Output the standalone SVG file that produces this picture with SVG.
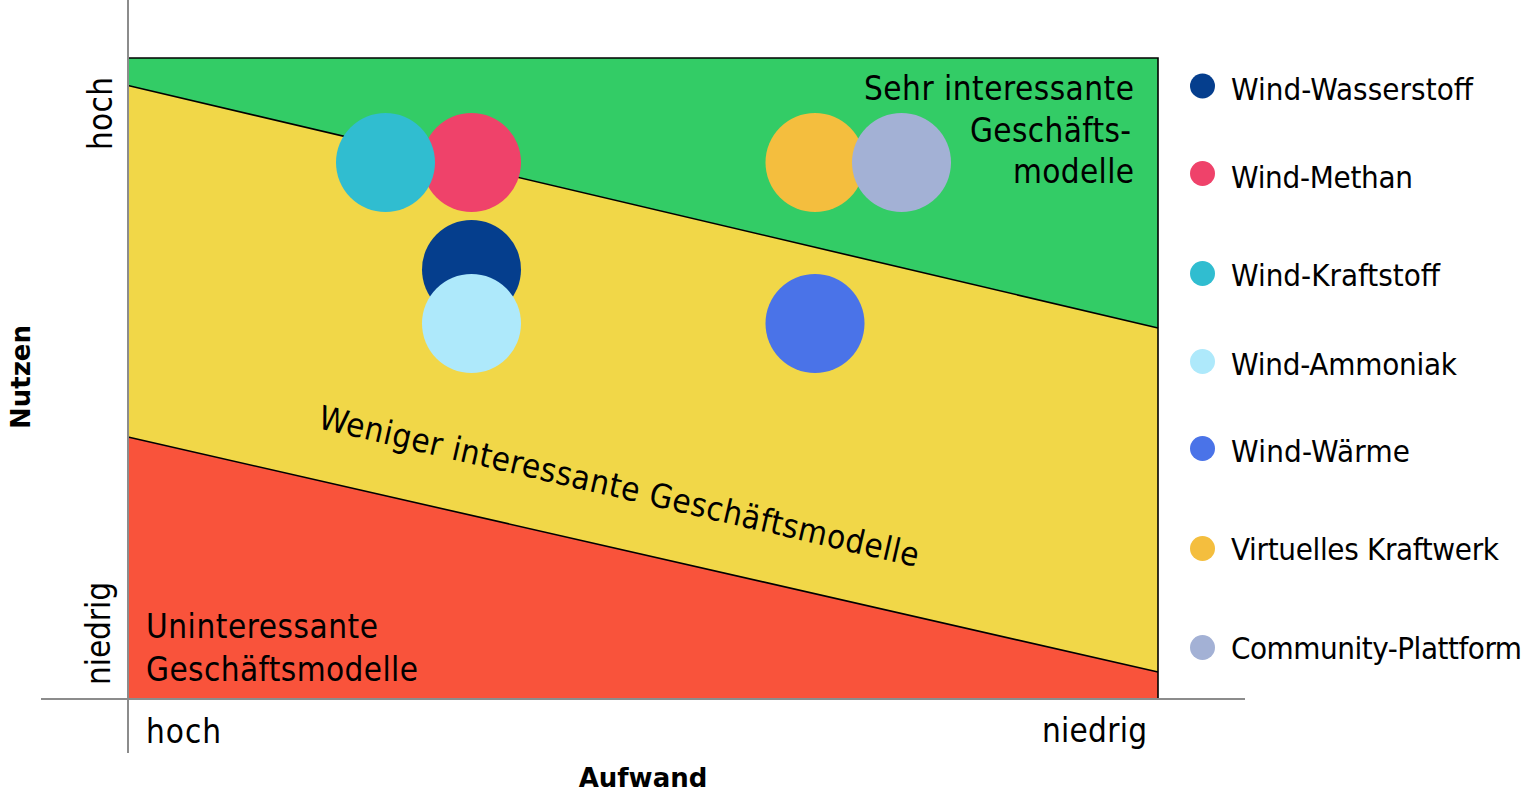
<svg xmlns="http://www.w3.org/2000/svg" width="1524" height="803" viewBox="0 0 1524 803">
<style>
.t{font-family:"DejaVu Sans Condensed","DejaVu Sans",sans-serif;font-stretch:condensed;font-size:33px;fill:#000}
.lg{font-family:"DejaVu Sans Condensed","DejaVu Sans",sans-serif;font-stretch:condensed;font-size:31px;fill:#000}
.b{font-family:"DejaVu Sans",sans-serif;font-weight:bold;font-size:26px;fill:#000}
.div{stroke:#000;stroke-width:1.6;fill:none}
.ax{stroke:#8c8c8c;stroke-width:2;fill:none}
</style>
<rect width="1524" height="803" fill="#fff"/>
<g id="zones">
<polygon points="128,58 1158,58 1158,328 128,85.5" fill="#33CC66"/>
<polygon points="128,85.5 1158,328 1158,672 128,437" fill="#F1D748"/>
<polygon points="128,437 1158,672 1158,699 128,699" fill="#F9533B"/>
<line class="div" x1="128" y1="85.5" x2="1158" y2="328"/>
<line class="div" x1="128" y1="437" x2="1158" y2="672"/>
<polyline class="div" points="128,58 1158,58 1158,699"/>
</g>
<g id="axes">
<line class="ax" x1="128" y1="0" x2="128" y2="753"/>
<line class="ax" x1="41" y1="699" x2="1245" y2="699"/>
</g>
<g id="zone-labels">
<text class="t" x="1134" y="99.5" text-anchor="end" textLength="270" lengthAdjust="spacing">Sehr interessante</text>
<text class="t" x="1131" y="141.5" text-anchor="end" textLength="161" lengthAdjust="spacing">Geschäfts-</text>
<text class="t" x="1134" y="183" text-anchor="end" textLength="121" lengthAdjust="spacing">modelle</text>
<text class="t" transform="translate(317,428) rotate(13.06)" textLength="615" lengthAdjust="spacing">Weniger interessante Geschäftsmodelle</text>
<text class="t" x="146" y="638" textLength="232" lengthAdjust="spacing">Uninteressante</text>
<text class="t" x="146" y="681" textLength="272" lengthAdjust="spacing">Geschäftsmodelle</text>
</g>
<g id="axis-labels">
<text class="t" transform="translate(112,150) rotate(-90)" textLength="73" lengthAdjust="spacing">hoch</text>
<text class="t" transform="translate(110,685) rotate(-90)" textLength="103" lengthAdjust="spacing">niedrig</text>
<text class="t" x="146" y="743" textLength="75" lengthAdjust="spacing">hoch</text>
<text class="t" x="1147" y="742" text-anchor="end" textLength="105" lengthAdjust="spacing">niedrig</text>
<text class="b" transform="translate(30,377) rotate(-90)" text-anchor="middle">Nutzen</text>
<text class="b" x="643" y="787" text-anchor="middle">Aufwand</text>
</g>
<g id="bubbles">
<circle id="b-methan" cx="471.5" cy="162.5" r="49.5" fill="#EF426A"/>
<circle id="b-kraftstoff" cx="385.5" cy="162.5" r="49.5" fill="#30BDD0"/>
<circle id="b-wasserstoff" cx="471.5" cy="269.5" r="49.5" fill="#053E8D"/>
<circle id="b-ammoniak" cx="471.5" cy="323.5" r="49.5" fill="#AEE9FB"/>
<circle id="b-kraftwerk" cx="815" cy="162.5" r="49.5" fill="#F4BE3E"/>
<circle id="b-community" cx="901.5" cy="162.5" r="49.5" fill="#A3B1D5"/>
<circle id="b-waerme" cx="815" cy="323.5" r="49.5" fill="#4A73E8"/>
</g>
<g id="legend">
<g id="l1"><circle cx="1202.5" cy="86" r="12.5" fill="#053E8D"/><text class="lg" x="1231" y="100" textLength="242" lengthAdjust="spacing">Wind-Wasserstoff</text></g>
<g id="l2"><circle cx="1202.5" cy="173.5" r="12.5" fill="#EF426A"/><text class="lg" x="1231" y="187.5" textLength="182" lengthAdjust="spacing">Wind-Methan</text></g>
<g id="l3"><circle cx="1202.5" cy="273.5" r="12.5" fill="#30BDD0"/><text class="lg" x="1231" y="286" textLength="209" lengthAdjust="spacing">Wind-Kraftstoff</text></g>
<g id="l4"><circle cx="1202.5" cy="361.5" r="12.5" fill="#AEE9FB"/><text class="lg" x="1231" y="375" textLength="226" lengthAdjust="spacing">Wind-Ammoniak</text></g>
<g id="l5"><circle cx="1202.5" cy="448.5" r="12.5" fill="#4A73E8"/><text class="lg" x="1231" y="462" textLength="179" lengthAdjust="spacing">Wind-Wärme</text></g>
<g id="l6"><circle cx="1202.5" cy="548.5" r="12.5" fill="#F4BE3E"/><text class="lg" x="1231" y="560" textLength="268" lengthAdjust="spacing">Virtuelles Kraftwerk</text></g>
<g id="l7"><circle cx="1202.5" cy="647.5" r="12.5" fill="#A3B1D5"/><text class="lg" x="1231" y="659" textLength="291" lengthAdjust="spacing">Community-Plattform</text></g>
</g>
</svg>
